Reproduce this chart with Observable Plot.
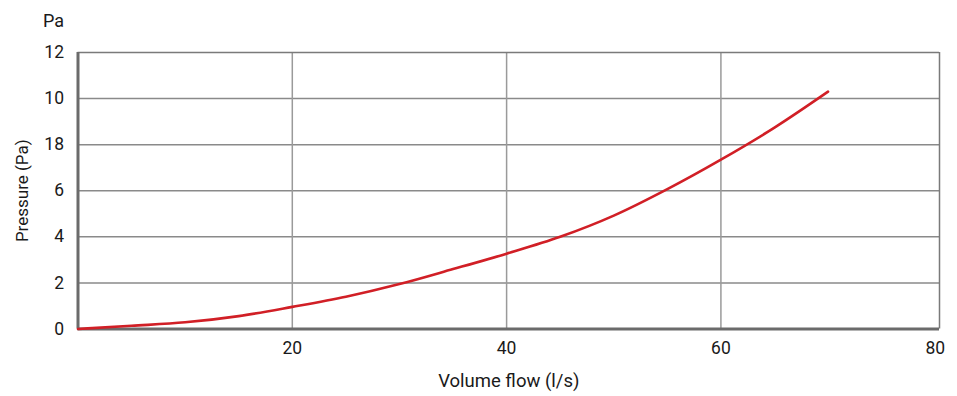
<!DOCTYPE html>
<html>
<head>
<meta charset="utf-8">
<script src="https://cdn.jsdelivr.net/npm/d3@7"></script>
<script src="https://cdn.jsdelivr.net/npm/@observablehq/plot@0.6"></script>
<style>
  html, body { margin: 0; padding: 0; background: #fff; }
  #chart svg { display: block; }
</style>
</head>
<body>
<div id="chart"></div>
<script>
// Data
const flow = [0, 5, 10, 15, 20, 25, 30, 35, 40, 45, 50, 55, 60, 65, 70];
const pressure = [0, 0.14, 0.29, 0.56, 0.96, 1.4, 1.95, 2.6, 3.27, 4.0, 4.92, 6.07, 7.35, 8.74, 10.3];
const xTicks = [20, 40, 60, 80];
const yTicks = [0, 2, 4, 6, 8, 10, 12];
const yTickLabels = ["0", "2", "4", "6", "18", "10", "12"];
const xTitle = "Volume flow (l/s)";
const yTitle = "Pressure (Pa)";
const unitLabel = "Pa";

const data = flow.map((x, i) => ({x, y: pressure[i]}));

const tickFont = "Roboto, 'DejaVu Sans', sans-serif";

const chart = Plot.plot({
  width: 957,
  height: 396,
  marginLeft: 77.5,
  marginRight: 18,
  marginTop: 52,
  marginBottom: 67.5,
  style: {fontFamily: tickFont, fontSize: "17px", color: "#1a1a1a", background: "#fff"},
  x: {domain: [0, 80.4]},
  y: {domain: [0, 12]},
  marks: [
    Plot.gridY(yTicks.filter(d => d > 0 && d < 12), {stroke: "#8a8a8a", strokeOpacity: 1, strokeWidth: 1.5}),
    Plot.gridX(xTicks.filter(d => d < 80), {stroke: "#9a9a9a", strokeOpacity: 1, strokeWidth: 1.5}),
    Plot.ruleY([12], {stroke: "#7a7a7a", strokeWidth: 1.5}),
    Plot.ruleX([80.4], {stroke: "#7a7a7a", strokeWidth: 1.5}),
    Plot.ruleX([0], {stroke: "#6b6b6b", strokeWidth: 3}),
    Plot.ruleY([0], {stroke: "#6b6b6b", strokeWidth: 3}),
    Plot.axisY(yTicks, {
      tickSize: 0, tickPadding: 14,
      tickFormat: (d) => yTickLabels[yTicks.indexOf(d)],
      fontSize: 17.5, fill: "#1a1a1a",
      label: yTitle, labelAnchor: "center", labelArrow: "none", labelOffset: 62
    }),
    Plot.axisX(xTicks, {
      tickSize: 0, tickPadding: 13, fontSize: 17.5, fill: "#1a1a1a",
      label: xTitle, labelAnchor: "center", labelArrow: "none", labelOffset: 58
    }),
    Plot.text([unitLabel], {
      frameAnchor: "top-left", text: d => d, textAnchor: "start",
      dx: -35, dy: -38, fontSize: 18, fill: "#1a1a1a"
    }),
    Plot.line(data, {x: "x", y: "y", stroke: "#d11f26", strokeWidth: 2.6, curve: "monotone-x"})
  ]
});

// style axis titles
chart.querySelectorAll("[aria-label='y-axis label'] text").forEach(t => t.setAttribute("font-size", "17"));
chart.querySelectorAll("[aria-label='x-axis label'] text").forEach(t => t.setAttribute("font-size", "18.5"));
document.getElementById("chart").appendChild(chart);
</script>
</body>
</html>
